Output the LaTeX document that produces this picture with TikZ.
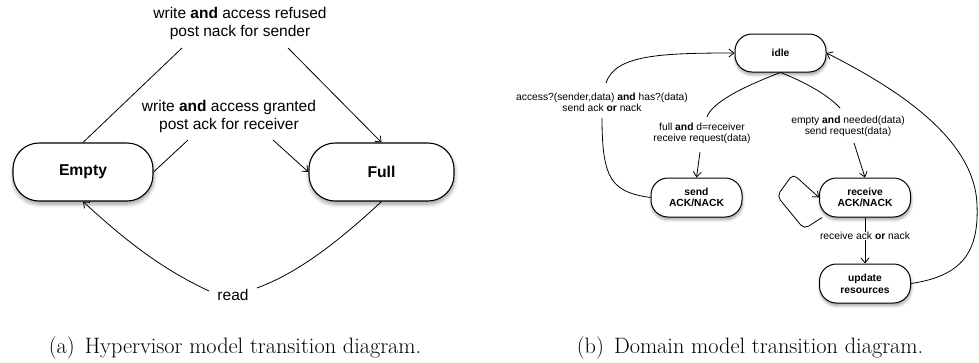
\documentclass[tikz,border=0pt]{standalone}
\usepackage{fontspec}
\usetikzlibrary{arrows.meta,shadows.blur}
\newfontfamily\labfont{Liberation Sans}
\tikzset{
  state/.style={draw, line width=1.1pt, fill=white, rounded corners=26pt,
    align=center, font=\labfont\bfseries\fontsize{15.7}{18}\selectfont,
    blur shadow={shadow xshift=0.5pt, shadow yshift=-3pt, shadow blur steps=6, shadow blur radius=4pt}},
  sstate/.style={draw, line width=1pt, fill=white, rounded corners=17pt,
    minimum width=91pt, minimum height=39pt, inner sep=0pt,
    align=center, font=\labfont\bfseries\fontsize{10.3}{11.7}\selectfont,
    blur shadow={shadow xshift=0.5pt, shadow yshift=-2.5pt, shadow blur steps=6, shadow blur radius=3pt}},
  biglab/.style={align=center, inner sep=0pt, font=\labfont\fontsize{15.5}{18}\selectfont},
  smalllab/.style={align=center, inner sep=0pt, font=\labfont\fontsize{10.3}{11}\selectfont},
  conn/.style={line width=0.8pt},
  arr/.style={conn, -{Straight Barb[length=5pt,width=8pt]}},
  capt/.style={inner sep=0pt, font=\fontsize{22.3}{25}\selectfont}
}
\begin{document}
\begin{tikzpicture}[x=1pt,y=-1pt]
\useasboundingbox (0,0) rectangle (979,362);
% ---------- (a) ----------
\node[state, minimum width=140pt, minimum height=58pt] (empty) at (83,172) {Empty};
\node[state, minimum width=145pt, minimum height=58pt] (full) at (381.5,172) {Full};
\node[biglab] (lref) at (240,23) {write \textbf{and} access refused\\post nack for sender};
\node[biglab] (lgr) at (229,116) {write \textbf{and} access granted\\post ack for receiver};
\node[biglab] (lread) at (233,295) {read};
\coordinate (r1) at (182,48);
\coordinate (r2) at (288,48);
\coordinate (g1) at (188,140);
\coordinate (g2) at (273,140);
\coordinate (d1) at (257,288);
\coordinate (d2) at (209,291);
\draw[conn] (empty.north) -- (r1);
\draw[arr] (r2) -- (full.north);
\draw[conn] (empty.east) -- (g1);
\draw[arr] (g2) -- (full.west);
\draw[conn] (full.south) .. controls (340,240) and (300,272) .. (d1);
\draw[arr] (d2) .. controls (160,268) and (125,240) .. (empty.south);
\node[capt] (capa) at (235,348) {(a)\hspace{0.45em}Hypervisor model transition diagram.};
% ---------- (b) ----------
\node[sstate, minimum height=38pt] (idle) at (780.5,53) {idle};
\node[sstate] (send) at (696.5,197.5) {send\\ACK/NACK};
\node[sstate] (recv) at (865,197.5) {receive\\ACK/NACK};
\node[sstate] (upd) at (865,283.5) {update\\resources};
\node[smalllab] (lacc) at (602,102) {access?(sender,data) \textbf{and} has?(data)\\send ack \textbf{or} nack};
\node[smalllab] (lfull) at (702,133.5) {full \textbf{and} d=receiver\\receive request(data)};
\node[smalllab] (lempty) at (848,126) {empty \textbf{and} needed(data)\\send request(data)};
\node[smalllab] (lrcv) at (865,236) {receive ack \textbf{or} nack};
\coordinate (f1) at (707,117);
\coordinate (f2) at (700,152);
\coordinate (e1) at (840,108);
\coordinate (e2) at (854,143);
\coordinate (a1) at (602,118);
\coordinate (a2) at (606,83);
\draw[conn] (idle.south) .. controls (745,86) and (712,102) .. (f1);
\draw[arr] (f2) -- (send.north);
\draw[conn] (idle.south) .. controls (805,82) and (828,95) .. (e1);
\draw[arr] (e2) -- (recv.north);
\draw[conn] (send.west) .. controls (612,192) and (602,180) .. (a1);
\draw[arr] (a2) .. controls (615,55) and (660,53) .. (idle.west);
\draw[arr, rounded corners=5pt] (recv.205) -- (804,229) -- (777,196) -- (793,174) -- (recv.west);
\draw[conn] (recv.south) -- (lrcv.north);
\draw[arr] (lrcv.south) -- (upd.north);
\draw[arr] (upd.east) .. controls (962,276) and (979,252) .. (977,205) .. controls (975,140) and (900,90) .. (idle.east);
\node[capt] (capb) at (750,348) {(b)\hspace{0.45em}Domain model transition diagram.};
\end{tikzpicture}
\end{document}
